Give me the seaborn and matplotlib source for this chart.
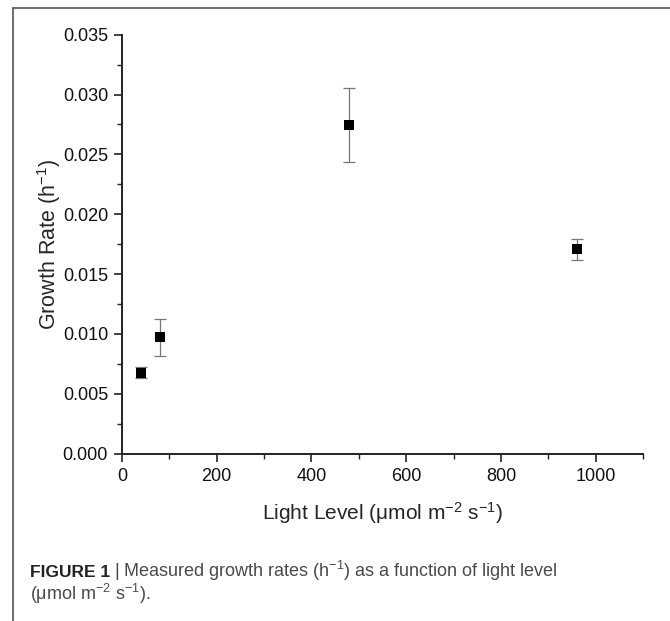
import numpy as np
import pandas as pd
import matplotlib
matplotlib.use("Agg")
import matplotlib.pyplot as plt
import seaborn as sns
from matplotlib.lines import Line2D
from matplotlib.ticker import MultipleLocator, FormatStrFormatter

# data
light_level = [40, 80, 480, 960]
growth_rate = [0.00676, 0.00972, 0.02746, 0.01706]
growth_err = [0.00045, 0.00155, 0.00310, 0.00090]

df = pd.DataFrame({'light': light_level, 'rate': growth_rate, 'err': growth_err})

sns.set_style('ticks')
plt.rcParams.update({
    'font.family': ['Liberation Sans', 'DejaVu Sans'],
    'mathtext.fontset': 'custom',
    'mathtext.rm': 'Liberation Sans',
    'mathtext.it': 'Liberation Sans:italic',
    'axes.linewidth': 1.4,
    'xtick.major.width': 1.2,
    'ytick.major.width': 1.2,
    'xtick.minor.width': 1.0,
    'ytick.minor.width': 1.0,
})

fig = plt.figure(figsize=(6.7, 6.21), dpi=100)
ax = fig.add_axes([0.182, 0.2694, 0.778, 0.6747])

# error bars first, markers on top
ax.errorbar(df['light'], df['rate'], yerr=df['err'], fmt='none',
            ecolor='#777777', elinewidth=0.9, capsize=4, capthick=0.9, zorder=2)
sns.scatterplot(data=df, x='light', y='rate', marker='s', s=46,
                color='black', edgecolor='black', linewidth=0, ax=ax, zorder=3)

ax.set_xlim(0, 1100)
ax.set_ylim(0, 0.035)
ax.xaxis.set_major_locator(MultipleLocator(200))
ax.xaxis.set_minor_locator(MultipleLocator(100))
ax.yaxis.set_major_locator(MultipleLocator(0.005))
ax.yaxis.set_minor_locator(MultipleLocator(0.0025))
ax.yaxis.set_major_formatter(FormatStrFormatter('%.3f'))
ax.tick_params(axis='both', which='major', length=6, labelsize=13, pad=4,
               color='#222222', labelcolor='#111111')
ax.tick_params(axis='both', which='minor', length=3.5, color='#222222')

ax.set_xlabel('Light Level (\u03bcmol m$^{-2}$ s$^{-1}$)', fontsize=15, labelpad=11)
ax.set_ylabel('Growth Rate (h$^{-1}$)', fontsize=15.5, labelpad=0)

for side in ['top', 'right']:
    ax.spines[side].set_visible(False)
for side in ['left', 'bottom']:
    ax.spines[side].set_color('#222222')

# page frame lines (top and left)
fig.add_artist(Line2D([0.0194, 1.0], [0.987, 0.987], transform=fig.transFigure,
                      color='#555555', linewidth=1.2))
fig.add_artist(Line2D([0.0194, 0.0194], [0.0, 0.987], transform=fig.transFigure,
                      color='#555555', linewidth=1.2))

# caption
cap_x = 30 / 670
t1 = fig.text(cap_x, 1 - 577 / 621, 'FIGURE 1', fontsize=12.5, fontweight='bold',
              color='#222222', va='baseline')
fig.canvas.draw()
bb = t1.get_window_extent()
x2 = (bb.x1 + 4) / fig.bbox.width
fig.text(x2, 1 - 577 / 621,
         '| Measured growth rates (h$^{-1}$) as a function of light level',
         fontsize=13, color='#4a4a4a', va='baseline')
fig.text(cap_x, 1 - 600 / 621, '(\u03bcmol m$^{-2}$ s$^{-1}$).',
         fontsize=13, color='#4a4a4a', va='baseline')

fig.savefig('out.png', dpi=100)
